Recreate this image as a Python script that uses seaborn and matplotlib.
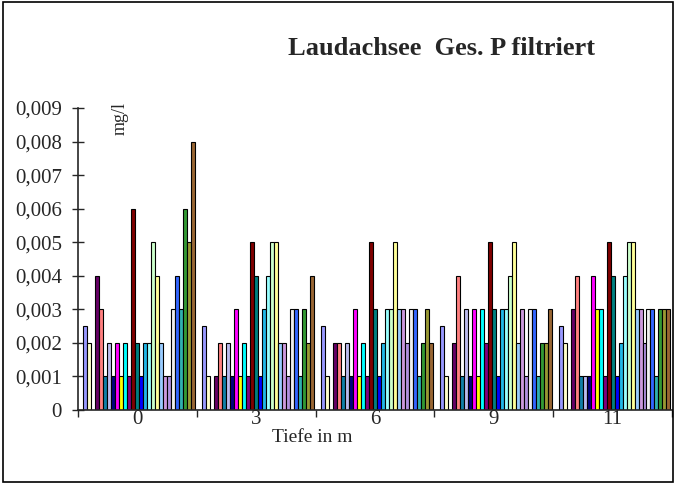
import numpy as np
import pandas as pd
import matplotlib
matplotlib.use("Agg")
import matplotlib.pyplot as plt
import seaborn as sns
from matplotlib.ticker import FuncFormatter

nan = np.nan

# depth categories (x axis)
depths = ["0", "3", "6", "9", "11"]

# one value per series slot, mg/l; nan = no bar (slots 0 and 3 are empty)
d0 = [nan, 0.0025, 0.002, nan, 0.004, 0.003, 0.001, 0.002, 0.001, 0.002, 0.001, 0.002, 0.001, 0.006, 0.002,
      0.001, 0.002, 0.002, 0.005, 0.004, 0.002, 0.001, 0.001, 0.003, 0.004, 0.003, 0.006, 0.005, 0.008]
d3 = [nan, 0.0025, 0.001, nan, 0.001, 0.002, 0.001, 0.002, 0.001, 0.003, 0.001, 0.002, 0.001, 0.005, 0.004,
      0.001, 0.003, 0.004, 0.005, 0.005, 0.002, 0.002, 0.001, 0.003, 0.003, 0.001, 0.003, 0.002, 0.004]
d6 = [nan, 0.0025, 0.001, nan, 0.002, 0.002, 0.001, 0.002, 0.001, 0.003, 0.001, 0.002, 0.001, 0.005, 0.003,
      0.001, 0.002, 0.003, 0.003, 0.005, 0.003, 0.003, 0.002, 0.003, 0.003, 0.001, 0.002, 0.003, 0.002]
d9 = [nan, 0.0025, 0.001, nan, 0.002, 0.004, 0.001, 0.003, 0.001, 0.003, 0.001, 0.003, 0.002, 0.005, 0.003,
      0.001, 0.003, 0.003, 0.004, 0.005, 0.002, 0.003, 0.001, 0.003, 0.003, 0.001, 0.002, 0.002, 0.003]
d11 = [nan, 0.0025, 0.002, nan, 0.003, 0.004, 0.001, 0.001, 0.001, 0.004, 0.003, 0.003, 0.001, 0.005, 0.004,
       0.001, 0.002, 0.004, 0.005, 0.005, 0.003, 0.003, 0.002, 0.003, 0.003, 0.001, 0.003, 0.003, 0.003]

# series colours (old Excel palette)
colors = ["#FFFFFF", "#9999FF", "#FFFFCC", "#CCFFFF", "#660066", "#FF8080", "#1080A8", "#BBBBEE",
          "#000080", "#FF00FF", "#FFFF00", "#00FFFF", "#800080", "#800000", "#008080", "#0000FF",
          "#20B8E8", "#99FFFF", "#CCFFCC", "#FFFF99", "#99CCFF", "#CC99DD", "#B090E0", "#F0F0F0",
          "#3366FF", "#30B0B0", "#339933", "#999933", "#996633"]

series = [f"s{i:02d}" for i in range(len(colors))]

df = pd.DataFrame({
    "depth": np.repeat(depths, len(series)),
    "series": series * len(depths),
    "value": d0 + d3 + d6 + d9 + d11,
})

sns.set_style("ticks")
plt.rcParams["font.family"] = ["Liberation Serif", "DejaVu Serif"]

fig, ax = plt.subplots(figsize=(6.76, 4.84), dpi=100)
fig.subplots_adjust(left=0.1154, right=0.994, bottom=0.1529, top=0.7769)

sns.barplot(data=df, x="depth", y="value", hue="series", hue_order=series, order=depths,
            palette=colors, width=0.975, errorbar=None, saturation=1,
            edgecolor="black", linewidth=0.8, legend=False, ax=ax)

ax.set_xlim(-0.5, 4.5)
ax.set_ylim(0, 0.009)
ax.set_yticks(np.arange(0, 0.0091, 0.001))
ax.yaxis.set_major_formatter(FuncFormatter(lambda v, p: "0" if abs(v) < 1e-9 else f"{v:.3f}".replace(".", ",")))
ax.tick_params(axis="y", direction="inout", length=9, width=1, labelsize=15, pad=7)

ax.set_xticks([-0.5, 0.5, 1.5, 2.5, 3.5, 4.5], labels=[""] * 6)
ax.set_xticks(range(len(depths)), labels=depths, minor=True)
ax.tick_params(axis="x", which="major", direction="out", length=5, width=1)
ax.tick_params(axis="x", which="minor", length=0, labelsize=15, pad=0)

sns.despine(ax=ax)
for s in ["left", "bottom"]:
    ax.spines[s].set_linewidth(1.2)
ax.set_xlabel("")
ax.set_ylabel("")

fig.text(0.653, 0.900, "Laudachsee  Ges. P filtriert", ha="center", va="center",
         fontsize=19, fontweight="bold")
fig.text(0.178, 0.755, "mg/l", rotation=90, ha="center", va="center", fontsize=13)
fig.text(0.4615, 0.097, "Tiefe in m", ha="center", va="center", fontsize=14)

fig.patches.append(plt.Rectangle((0.004, 0.005), 0.992, 0.99, transform=fig.transFigure,
                                 fill=False, edgecolor="black", linewidth=1.2))

plt.savefig("out.png", dpi=100)
